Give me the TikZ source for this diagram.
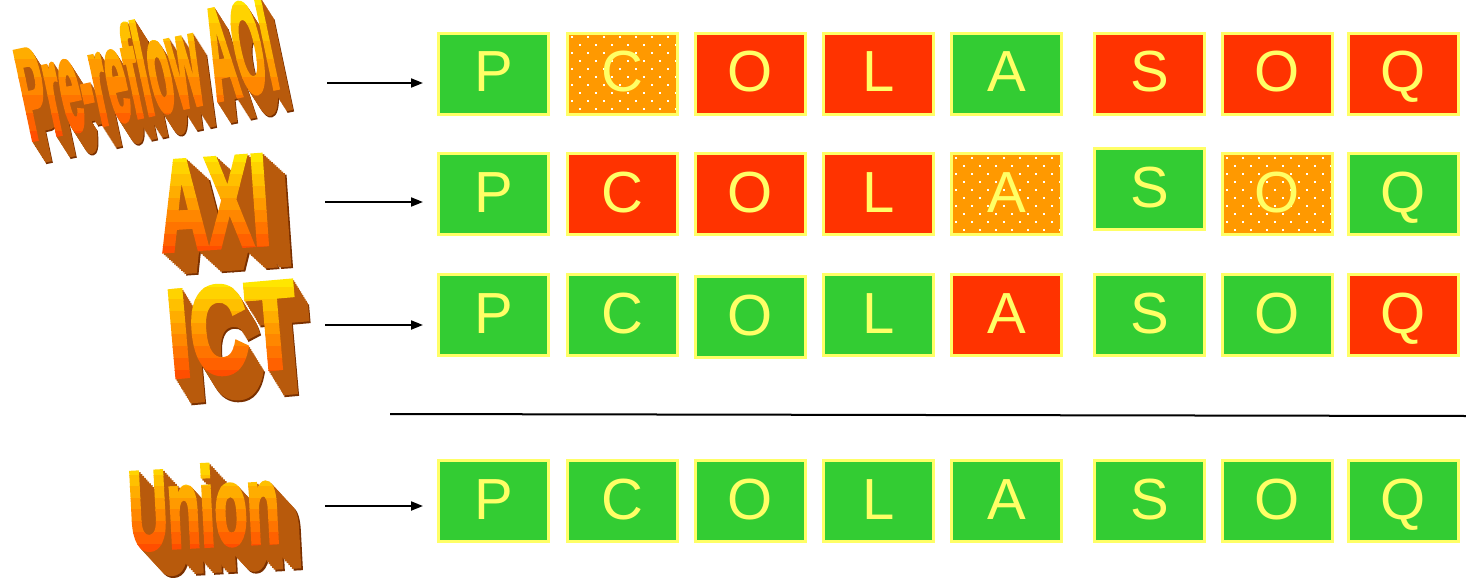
\documentclass[tikz,border=0pt]{standalone}
\usepackage{fontspec}
\usetikzlibrary{arrows.meta}
\newfontfamily\cellfont{Liberation Sans}
\newfontfamily\wafont{Liberation Sans Bold}[FakeBold=4]
\definecolor{okgreen}{HTML}{33CC33}
\definecolor{badred}{HTML}{FF3300}
\definecolor{warnorange}{HTML}{FF9900}
\definecolor{rimyellow}{HTML}{FFFF66}
\definecolor{waTop}{HTML}{FFE600}
\definecolor{waBot}{HTML}{FF4800}
\definecolor{waSide}{HTML}{B85A0C}
\definecolor{waDeep}{HTML}{7A3000}

\tikzset{
  cell/.style={draw=rimyellow, line width=3pt, minimum width=110pt, minimum height=81pt,
    inner sep=0pt, text=rimyellow, font=\cellfont\fontsize{58}{58}\selectfont,
    text height=42pt, text depth=6pt},
  goodbox/.style={cell, fill=okgreen},
  badbox/.style={cell, fill=badred},
  dotbox/.style={cell, fill=warnorange, path picture={
      \foreach \dr [evaluate=\dr as \off using {int(mod(\dr,2)*8)}] in {0,...,10}
        \foreach \dc in {0,...,6}
          \fill[white] ([shift={(\dc*16+\off+3,\dr*8+3)}]path picture bounding box.north west) rectangle +(2,2);}},
  feed/.style={-{Triangle[length=12pt,width=9pt]}, line width=2pt},
  wa/.style={inner sep=0pt, font=\wafont},
}

\begin{document}
\begin{tikzpicture}[x=1pt, y=-1pt]
	\fill[white] (0,0) rectangle (1466,583);
	\useasboundingbox (0,0) rectangle (1466,583);
	% word art labels: extrusion, then front face in colour bands
	\foreach \nm/\x/\y/\rot/\fs/\ys/\dx/\dy/\hi/\lo/\txt in {
	    pre/146/68/12/37/3.5/14/22/-12/150/Pre-reflow AOI,
	    axi/214/203/4/66/1.95/24/22/150/258/AXI,
	    ict/232/329/5/80/1.55/16/26/276/382/ICT,
	    uni/204/506/3/53/2.1/24/26/452/556/Union}{
		\node[wa, text=waDeep, rotate=\rot] (\nm-deep) at (\x+\dx,\y+\dy) {\scalebox{1}[\ys]{\fontsize{\fs}{\fs}\selectfont\txt}};
		\foreach \k in {13,...,1}
			\node[wa, text=waSide, rotate=\rot] (\nm-x\k) at (\x+\dx*\k/14,\y+\dy*\k/14) {\scalebox{1}[\ys]{\fontsize{\fs}{\fs}\selectfont\txt}};
		\foreach \bd [evaluate=\bd as \pc using {int(100-\bd*12)},
		              evaluate=\bd as \ya using {\hi+\bd*(\lo-\hi)/9},
		              evaluate=\bd as \yb using {\hi+(\bd+1)*(\lo-\hi)/9+0.5}] in {0,...,8}{
			\begin{scope}
				\clip (0,\ya) rectangle (340,\yb);
				\node[wa, text=waTop!\pc!waBot, rotate=\rot] (\nm-f\bd) at (\x,\y) {\scalebox{1}[\ys]{\fontsize{\fs}{\fs}\selectfont\txt}};
			\end{scope}}
	}
	% result rows
	\foreach \cc/\x/\y/\lt/\st in {1/493.5/74/P/goodbox, 2/622.5/74/C/dotbox, 3/750.5/74/O/badbox, 4/878.5/74/L/badbox,
	    5/1006.5/74/A/goodbox, 6/1149.5/74/S/badbox, 7/1277.5/74/O/badbox, 8/1403.5/74/Q/badbox}
		\node[\st] (r1c\cc) at (\x,\y) {\lt};
	\foreach \cc/\x/\y/\lt/\st in {1/493.5/194/P/goodbox, 2/622.5/194/C/badbox, 3/750.5/194/O/badbox, 4/878.5/194/L/badbox,
	    5/1006.5/194/A/dotbox, 6/1149.5/189/S/goodbox, 7/1277.5/194/O/dotbox, 8/1403.5/194/Q/goodbox}
		\node[\st] (r2c\cc) at (\x,\y) {\lt};
	\foreach \cc/\x/\y/\lt/\st in {1/493.5/315/P/goodbox, 2/622.5/315/C/goodbox, 3/750.5/317/O/goodbox, 4/878.5/315/L/goodbox,
	    5/1006.5/315/A/badbox, 6/1149.5/315/S/goodbox, 7/1277.5/315/O/goodbox, 8/1403.5/315/Q/badbox}
		\node[\st] (r3c\cc) at (\x,\y) {\lt};
	\foreach \cc/\x/\lt in {1/493.5/P, 2/622.5/C, 3/750.5/O, 4/878.5/L, 5/1006.5/A, 6/1149.5/S, 7/1277.5/O, 8/1403.5/Q}
		\node[goodbox] (r4c\cc) at (\x,501) {\lt};
	% arrows
	\coordinate (a1) at (327,83);
	\coordinate (a2) at (325,202);
	\coordinate (a3) at (325,325);
	\coordinate (a4) at (325,506);
	\draw[feed, shorten >=14pt] (a1) -- (a1 -| r1c1.west);
	\draw[feed, shorten >=14pt] (a2) -- (a2 -| r2c1.west);
	\draw[feed, shorten >=14pt] (a3) -- (a3 -| r3c1.west);
	\draw[feed, shorten >=14pt] (a4) -- (a4 -| r4c1.west);
	% separator
	\coordinate (s0) at (390,414);
	\coordinate (s1) at (1466,416);
	\draw[line width=2pt] (s0) -- (s1);
\end{tikzpicture}
\end{document}
